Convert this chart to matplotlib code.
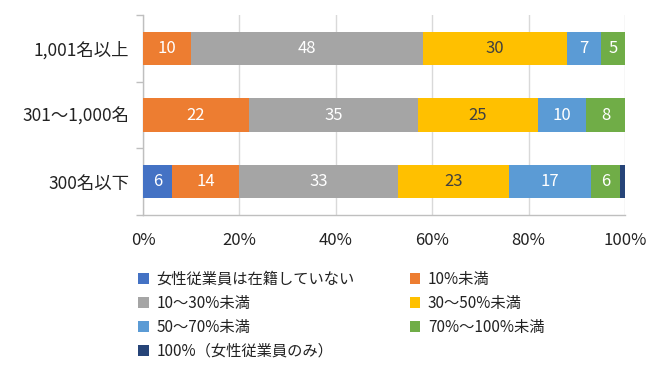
import matplotlib
matplotlib.use("Agg")
import matplotlib.pyplot as plt
from matplotlib.patches import Patch
from matplotlib.ticker import FixedLocator

plt.rcParams['font.family'] = ['Noto Sans CJK JP', 'DejaVu Sans']

categories = ["1,001名以上", "301～1,000名", "300名以下"]
series_names = ["女性従業員は在籍していない", "10%未満", "10～30%未満", "30～50%未満",
                "50～70%未満", "70%～100%未満", "100%（女性従業員のみ）"]
values = [
    [0, 0, 6],     # 女性従業員は在籍していない
    [10, 22, 14],  # 10%未満
    [48, 35, 33],  # 10～30%未満
    [30, 25, 23],  # 30～50%未満
    [7, 10, 17],   # 50～70%未満
    [5, 8, 6],     # 70%～100%未満
    [0, 0, 1],     # 100%（女性従業員のみ）
]
colors = ["#4472C4", "#ED7D31", "#A5A5A5", "#FFC000", "#5B9BD5", "#70AD47", "#264478"]
label_colors = ["white", "white", "white", "#404040", "white", "white", "white"]
xticks = [0, 20, 40, 60, 80, 100]
xticklabels = ["0%", "20%", "40%", "60%", "80%", "100%"]

fig = plt.figure(figsize=(6.6, 3.68), dpi=100)
ax = fig.add_axes([143/660, 1-215/368, (625-143)/660, 200/368])

y = list(range(len(categories)))
left = [0]*len(categories)
for i, (name, vals) in enumerate(zip(series_names, values)):
    ax.barh(y, vals, left=left, height=0.5, color=colors[i], label=name, zorder=3)
    for j, v in enumerate(vals):
        if v >= 3:
            ax.text(left[j] + v/2, y[j], str(v), ha='center', va='center',
                    color=label_colors[i], fontsize=12, zorder=4)
    left = [l + v for l, v in zip(left, vals)]

ax.set_xlim(0, 100)
ax.set_ylim(2.5, -0.5)
ax.set_yticks(y)
ax.set_yticklabels(categories, fontsize=12.5, color="#222222")
ax.yaxis.set_minor_locator(FixedLocator([-0.5, 0.5, 1.5, 2.5]))
ax.tick_params(axis='y', which='major', length=0, pad=10)
ax.tick_params(axis='y', which='minor', length=5, color="#BFBFBF", width=1)
ax.set_xticks(xticks)
ax.set_xticklabels(xticklabels, fontsize=12, color="#222222")
ax.tick_params(axis='x', length=0, pad=12)
ax.grid(axis='x', color="#D9D9D9", linewidth=1, zorder=0)
for s in ['top', 'right']:
    ax.spines[s].set_visible(False)
for s in ['left', 'bottom']:
    ax.spines[s].set_color("#BFBFBF")
    ax.spines[s].set_linewidth(1)

handles = [Patch(facecolor=c, edgecolor='none') for c in colors]
order = [0, 2, 4, 6, 1, 3, 5]
leg = fig.legend([handles[k] for k in order], [series_names[k] for k in order],
                 loc='upper left', bbox_to_anchor=(138/660, 1-271/368), ncol=2,
                 frameon=False, fontsize=11, handlelength=0.7, handleheight=0.7,
                 handletextpad=0.5, columnspacing=3.6, labelspacing=0.45,
                 borderaxespad=0, borderpad=0)
for t in leg.get_texts():
    t.set_color("#222222")

fig.savefig("out.png", dpi=100)
